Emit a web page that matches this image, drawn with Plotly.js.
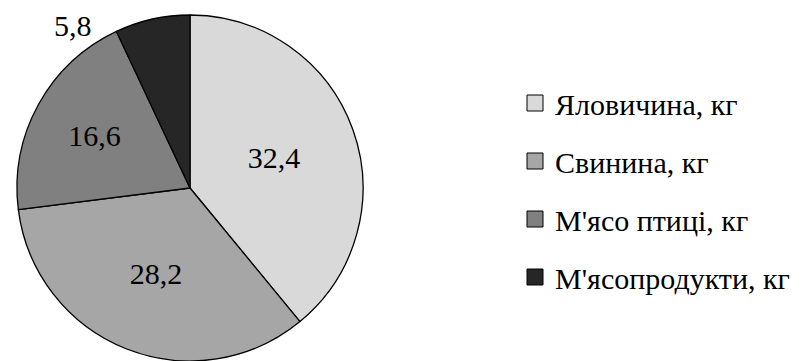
<!DOCTYPE html>
<html><head><meta charset="utf-8">
<script src="https://cdn.plot.ly/plotly-3.0.1.min.js"></script>
<style>
html,body{margin:0;padding:0;background:#fff}
#chart text{font-family:'Liberation Serif','Times New Roman','DejaVu Serif',serif !important}
</style>
</head><body>
<div id="chart" style="width:803px;height:361px"></div>
<script>
const categories = ['Яловичина, кг', 'Свинина, кг', "М'ясо птиці, кг", "М'ясопродукти, кг"];
const values = [32.4, 28.2, 16.6, 5.8];
const colors = ['#d9d9d9', '#a6a6a6', '#808080', '#262626'];
const labelInside = [true, true, true, false];

const FONT = 'Liberation Serif, Times New Roman, DejaVu Serif, serif';
const fmt = v => String(v).replace('.', ',');

const pie = {
  type: 'pie', labels: categories, values: values, sort: false,
  direction: 'clockwise', rotation: 0,
  marker: {colors: colors, line: {color: '#000', width: 1.3}},
  texttemplate: values.map((v, i) => labelInside[i] ? '%{value:.1f}' : ''),
  textposition: 'inside', insidetextorientation: 'horizontal',
  textfont: {family: FONT, size: 30, color: '#000'},
  domain: {x: [15 / 803, 365 / 803], y: [0, 1]},
  showlegend: false, hoverinfo: 'label+value'
};

const legendTraces = categories.map((c, i) => ({
  type: 'scatter', x: [null], y: [null], mode: 'markers', name: c,
  legendgroup: 'g' + i,
  marker: {symbol: 'square', size: 16, color: colors[i], line: {color: '#000', width: 1}},
  hoverinfo: 'skip'
}));

const annotations = values.map((v, i) => labelInside[i] ? null : ({
  text: fmt(v), xref: 'paper', yref: 'paper', x: 73 / 803, y: (361 - 26) / 346,
  xanchor: 'center', yanchor: 'middle', showarrow: false,
  font: {family: FONT, size: 30, color: '#000'}
})).filter(a => a);

const layout = {
  width: 803, height: 361,
  margin: {l: 0, r: 0, t: 15, b: 0},
  paper_bgcolor: '#fff', plot_bgcolor: '#fff',
  separators: ', ',
  font: {family: FONT, size: 30, color: '#000'},
  xaxis: {visible: false}, yaxis: {visible: false},
  showlegend: true,
  legend: {
    x: 515 / 803, xanchor: 'left', y: (361 - 190) / 346, yanchor: 'middle',
    font: {family: FONT, size: 30, color: '#000'},
    itemwidth: 30, tracegroupgap: 16, traceorder: 'grouped',
    bgcolor: 'rgba(0,0,0,0)', borderwidth: 0
  },
  annotations: annotations
};

Plotly.newPlot('chart', [pie].concat(legendTraces), layout, {staticPlot: true, displayModeBar: false});
</script>
</body></html>
